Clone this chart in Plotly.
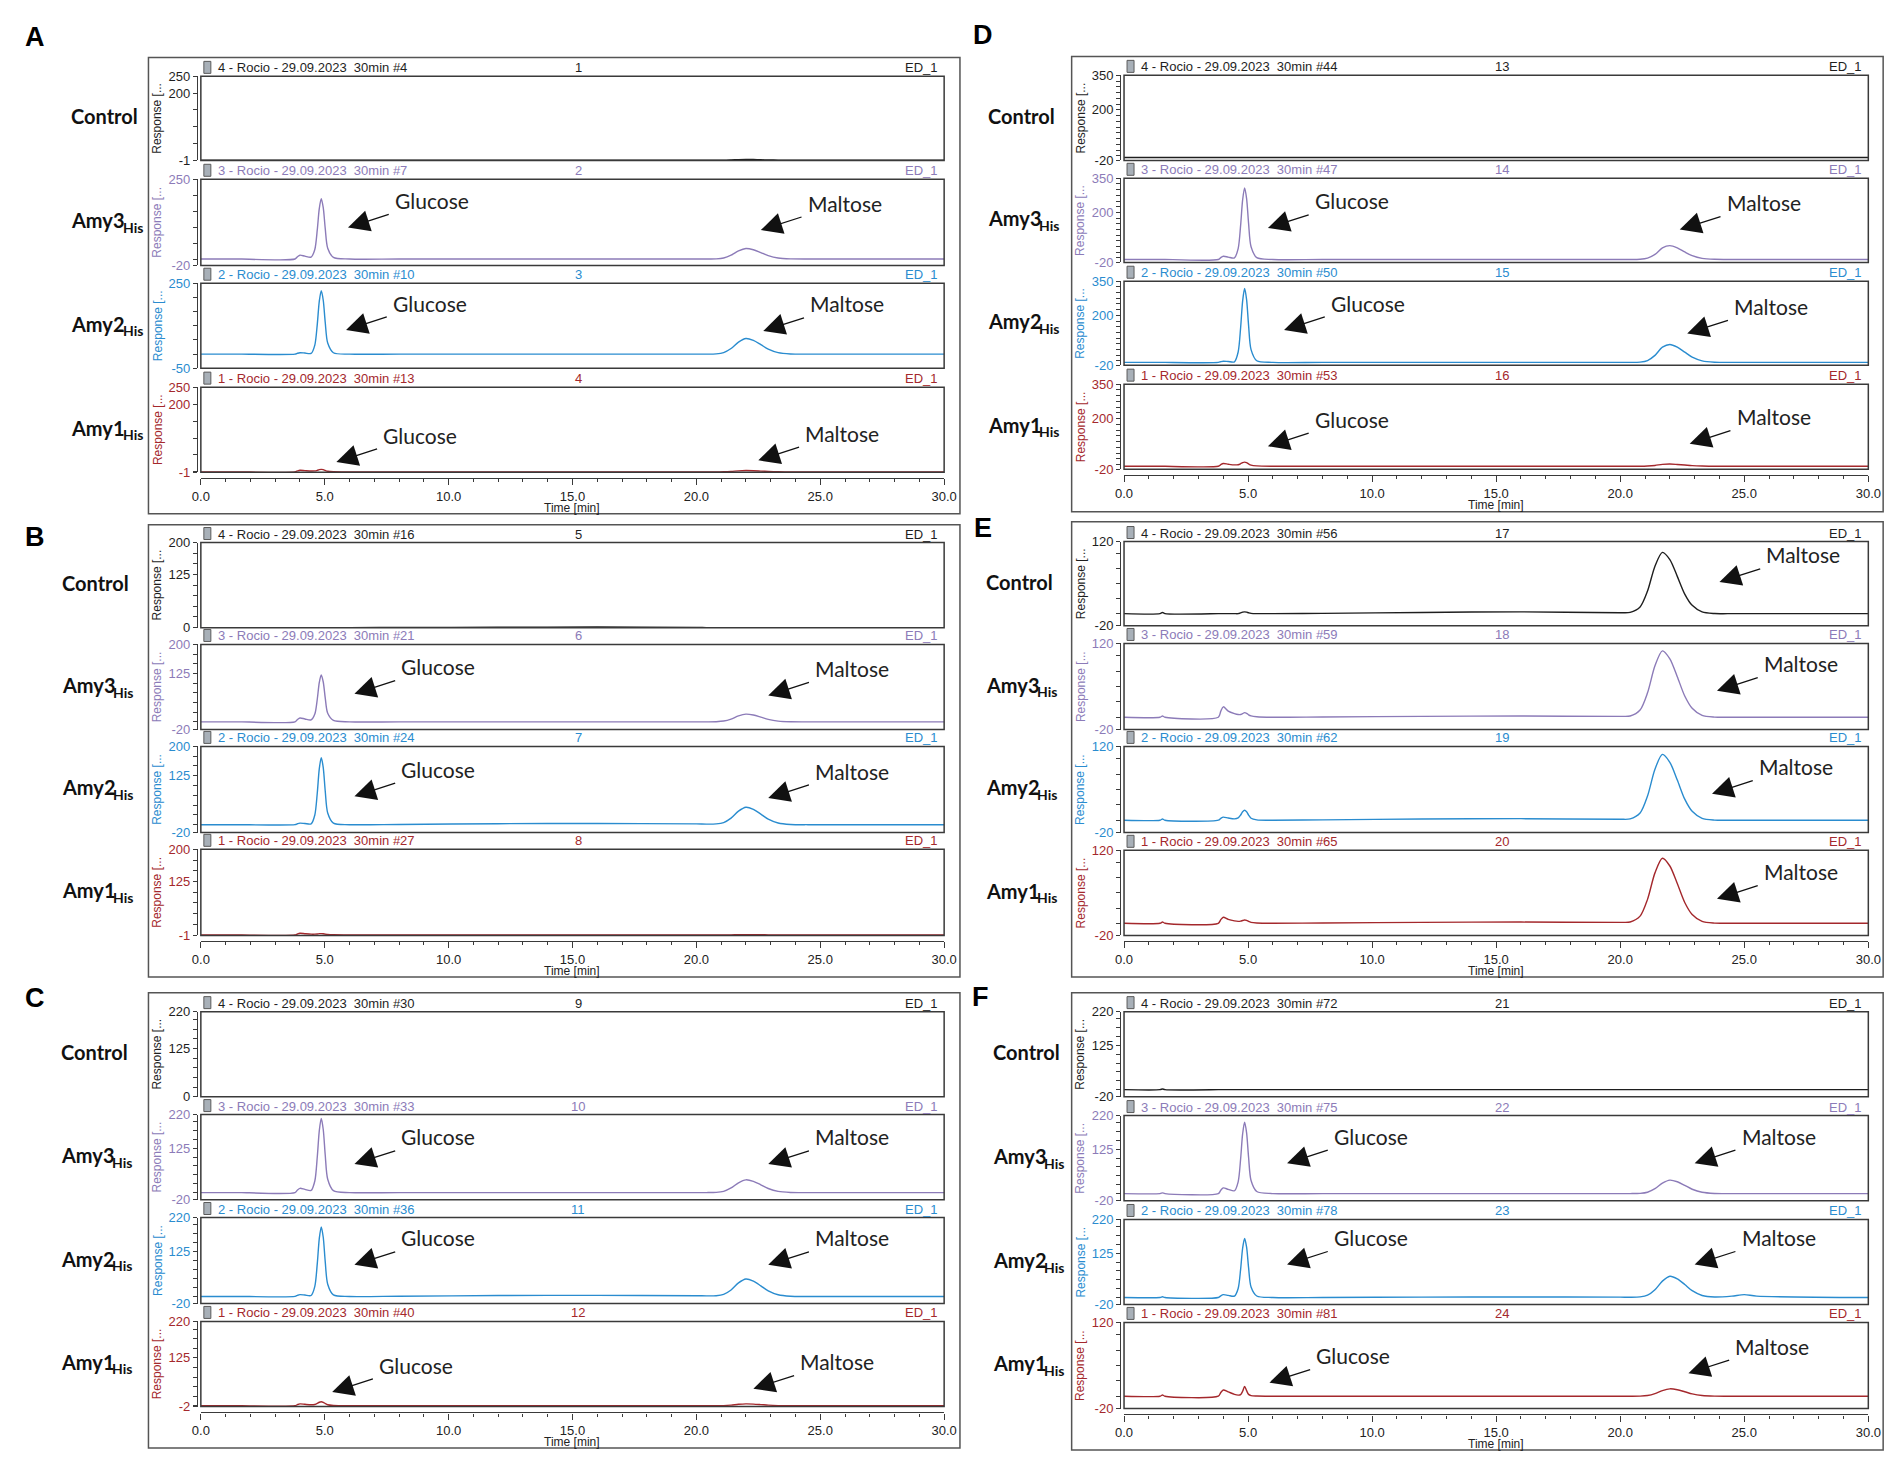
import plotly.graph_objects as go

W, H = 1901, 1458

# ---------------- data ----------------
# shared retention-time grid (min)
T = [0, 1.45, 1.55, 1.65,
     3.8, 3.9, 4.0, 4.2, 4.45, 4.6, 4.7, 4.78, 4.86, 4.94, 5.02, 5.12, 5.35, 6.0,
     8.0, 12.0, 16.0, 20.0,
     20.4, 20.8, 21.1, 21.4, 21.7, 22.0, 22.3, 22.6, 22.9, 23.3, 23.8, 24.5,
     25.0, 25.5, 30.0]

A_CONTROL = [0, 0, 0, 0,
             0, 0, 0, 0, 0, 0, 0, 0, 0, 0, 0, 0, 0, 0,
             0, 0, 0, 0,
             0, 0, 0, 0.7, 1.5, 2, 1.8, 1.2, 0.6, 0.2, 0, 0,
             0, 0, 0]
A_AMY3 = [0, 0, 0, 0,
          0, 7.2, 12, 9, 6, 30, 92, 158, 189, 161, 96, 34, 5, 0,
          0, 0, 0, 0,
          0, 0.6, 3.3, 11.9, 25.4, 33, 29, 20.1, 10.6, 3.1, 0.4, 0,
          0, 0, 0]
A_AMY2 = [0, 0, 0, 0,
          0, 3, 5, 3.8, 2.5, 32, 106, 186, 224, 190, 112, 39, 5, 0,
          0, 0, 0, 0,
          0, 0.9, 5.5, 19.8, 42.4, 55, 48.4, 33.6, 17.6, 5.2, 0.6, 0,
          0, 0, 0]
A_AMY1 = [0, 0, 0, 0,
          0, 3, 5, 3.8, 2.5, 2.9, 4.7, 6.7, 7.6, 6.6, 4.3, 2.1, 0.6, 0,
          0, 0, 0, 0,
          0, 0, 0.4, 1.4, 3.1, 4, 3.5, 2.4, 1.3, 0.4, 0, 0,
          0, 0, 0]

B_CONTROL = [0, 0, 0, 0,
             0, 0, 0, 0, 0, 0, 0, 0, 0, 0, 0, 0, 0, 0,
             0.3, 0.8, 1.5, 0.5,
             0, 0, 0, 0, 0, 0, 0, 0, 0, 0, 0, 0,
             0, 0, 0]
B_AMY3 = [0, 0, 0, 0,
          0, 6, 10, 7.5, 5, 20, 59, 101.5, 121, 103, 62, 22, 3.6, 0,
          0, 0, 0, 0,
          0, 0.3, 2, 7.2, 15.4, 20, 17.6, 12.2, 6.4, 1.9, 0.2, 0,
          0, 0, 0]
B_AMY2 = [0, 0, 0, 0,
          0, 2.4, 4, 3, 2, 24.7, 81.5, 142.5, 171, 146, 86, 30, 3.9, 0,
          0.5, 2.5, 3, 2,
          1.5, 2, 5.4, 16.6, 34.5, 44.5, 39, 27, 14.1, 4.2, 0.5, 0,
          0, 0, 0]
B_AMY1 = [0, 0, 0, 0,
          0, 2.4, 4, 3, 2, 2, 2.4, 3.1, 3.3, 2.9, 2.1, 1.2, 0.5, 0,
          0, 0, 0, 0,
          0, 0, 0, 0.4, 0.8, 1, 0.9, 0.6, 0.3, 0, 0, 0,
          0, 0, 0]

C_CONTROL = [0, 0, 0, 0,
             0, 0, 0, 0, 0, 0, 0, 0, 0, 0, 0, 0, 0, 0,
             0, 0, 0, 0,
             0, 0, 0, 0, 0, 0, 0, 0, 0, 0, 0, 0,
             0, 0, 0]
C_AMY3 = [0, 0, 0, 0,
          0, 7.2, 12, 9, 6, 32.7, 101, 174, 209, 178, 106, 37.6, 5.5, 0,
          0, 0, 0, 0,
          0, 0.6, 3.6, 13, 27.7, 36, 31.7, 22, 11.5, 3.4, 0.4, 0,
          0, 0, 0]
C_AMY2 = [0, 0, 0, 0,
          0, 3, 5, 3.8, 2.5, 28, 92, 161, 194, 165, 97, 34, 4.4, 0,
          0.5, 2.5, 3, 2,
          1.5, 2, 5.8, 18, 37.6, 48.5, 42.5, 29.5, 15.4, 4.6, 0.5, 0,
          0, 0, 0]
C_AMY1 = [0, 0, 0, 0,
          0, 3, 5, 3.8, 2.5, 3.3, 6.1, 9.2, 10.6, 9.1, 5.8, 2.6, 0.8, 0,
          0, 0, 0, 0,
          0, 0, 0.5, 1.8, 3.9, 5, 4.4, 3.1, 1.6, 0.5, 0, 0,
          0, 0, 0]

D_CONTROL = [-7, -7, -7, -7,
             -7, -7, -7, -7, -7, -7, -7, -7, -7, -7, -7, -7, -7, -7,
             -7, -7, -7, -7,
             -7, -7, -7, -7, -7, -7, -7, -7, -7, -7, -7, -7,
             -7, -7, -7]
D_AMY3 = [-7, -7, -7, -7,
          -7, 1.4, 7, 3.5, 0, 40.8, 144, 255, 307.6, 260.7, 151.8, 48.8, 0.9, -7,
          -7, -7, -7, -7,
          -7, -5.9, -0.8, 15.3, 44, 54, 44, 26, 10, -2, -6.3, -7,
          -7, -7, -7]
D_AMY2 = [-7, -7, -7, -7,
          -7, -4, -2, -3.2, -4.5, 38.7, 146.7, 262.8, 317.7, 269.1, 155.9, 49, 0.1, -7,
          -7, -7, -7, -7,
          -7, -5.6, 1.2, 24, 60, 72, 60, 38, 16, 0, -6.1, -7,
          -7, -7, -7]
D_AMY1 = [-7, -7, -7, -7,
          -7, 0.2, 5, 2, -1, -0.1, 4.2, 8.8, 11, 8.5, 3.2, -2, -5.3, -7,
          -7, -7, -7, -7,
          -7, -7, -6, -3.4, 1.5, 3, 1, -1.5, -4.2, -6, -7, -7,
          -7, -7, -7]

E_CONTROL = [0, 0, 2, 0,
             0, 0, 0, 0, 0, 0, 1.4, 2.5, 3, 2.5, 1.5, 0.5, 0, 0,
             0.5, 2, 3, 1.5,
             2.1, 11.2, 37.5, 79, 102, 90, 62, 32.6, 13.8, 2.9, 0.2, 0,
             0, 0, 0]
E_AMY3 = [0, 0, 2, 0,
          0, 10, 17, 10, 6, 4.5, 4.6, 6, 7.5, 6.5, 4, 2.2, 0.8, 0,
          0.5, 1.5, 2, 1.5,
          2.1, 11.8, 39.7, 83.7, 108, 95, 65.9, 34.6, 14.6, 3, 0.2, 0,
          0, 0, 0]
E_AMY2 = [0, 0, 2, 0,
          0, 3, 5, 3.5, 2.2, 3.7, 8.5, 13.8, 16.2, 13.8, 8.4, 3.2, 0.5, 0,
          0.5, 2, 2.5, 1.5,
          2.1, 11.7, 39.3, 82.9, 107, 94.2, 65.3, 34.2, 14.4, 3, 0.2, 0,
          0, 0, 0]
E_AMY1 = [0, 0, 2, 0,
          0, 6, 10, 6.5, 4, 3.2, 3.5, 4.5, 5.5, 4.8, 3, 1.5, 0.5, 0,
          0.5, 1.5, 2, 1.5,
          2.1, 11.7, 39.3, 82.9, 107, 94.2, 65.3, 34.2, 14.4, 3, 0.2, 0,
          0, 0, 0]

F_CONTROL = [0, 0, 2, 0,
             0, 0, 0, 0, 0, 0, 0, 0, 0, 0, 0, 0, 0, 0,
             0, 0, 0, 0,
             0, 0, 0, 0, 0, 0, 0, 0, 0, 0, 0, 0,
             0, 0, 0]
F_AMY3 = [0, 0, 2, 0,
          0, 9.6, 16, 12, 8, 33.2, 98.2, 168.3, 201.3, 171.4, 102.3, 36.8, 5.8, 0,
          0, 0, 0, 0,
          0, 0.6, 3.8, 13.7, 29.3, 38, 33.4, 23.2, 12.2, 3.6, 0.4, 0,
          0, 0, 0]
F_AMY2 = [0, 0, 2, 0,
          0, 4.8, 8, 6, 4, 25.5, 80.1, 138.9, 166.6, 141.8, 84.2, 29.7, 4.3, 0,
          0, 1, 1.5, 1,
          0.8, 1.7, 6.5, 21.9, 46.2, 60, 52.8, 36.6, 19.2, 5.7, 1.5, 4,
          8, 4, 0]
F_AMY1 = [0, 0, 2, 0,
          0, 6, 10, 7, 3, 1.8, 2.5, 8, 16, 9, 3, 1, 0.3, 0,
          0, 0, 0, 0,
          0, 0.2, 1.2, 4.3, 9.2, 12, 10.6, 7.3, 3.8, 1.1, 0.1, 0,
          0, 0, 0]

# y-axis ranges and labelled ticks (Control, Amy3, Amy2, Amy1)
A_YRANGE = [(-1, 250), (-20, 250), (-50, 250), (-1, 250)]
A_YTICKS = [[-1, 200, 250], [-20, 250], [-50, 250], [-1, 200, 250]]
B_YRANGE = [(0, 200), (-20, 200), (-20, 200), (-1, 200)]
B_YTICKS = [[0, 125, 200], [-20, 125, 200], [-20, 125, 200], [-1, 125, 200]]
C_YRANGE = [(0, 220), (-20, 220), (-20, 220), (-2, 220)]
C_YTICKS = [[0, 125, 220], [-20, 125, 220], [-20, 125, 220], [-2, 125, 220]]
D_YRANGE = [(-20, 350), (-20, 350), (-20, 350), (-20, 350)]
D_YTICKS = [[-20, 200, 350], [-20, 200, 350], [-20, 200, 350], [-20, 200, 350]]
E_YRANGE = [(-20, 120), (-20, 120), (-20, 120), (-20, 120)]
E_YTICKS = [[-20, 120], [-20, 120], [-20, 120], [-20, 120]]
F_YRANGE = [(-20, 220), (-20, 220), (-20, 220), (-20, 120)]
F_YTICKS = [[-20, 125, 220], [-20, 125, 220], [-20, 125, 220], [-20, 120]]

# injection numbers and sequence numbers
A_RUNS, A_NUMS = [4, 7, 10, 13], [1, 2, 3, 4]
B_RUNS, B_NUMS = [16, 21, 24, 27], [5, 6, 7, 8]
C_RUNS, C_NUMS = [30, 33, 36, 40], [9, 10, 11, 12]
D_RUNS, D_NUMS = [44, 47, 50, 53], [13, 14, 15, 16]
E_RUNS, E_NUMS = [56, 59, 62, 65], [17, 18, 19, 20]
F_RUNS, F_NUMS = [72, 75, 78, 81], [21, 22, 23, 24]

# peak labels: (row, text, arrow tip time, arrow tip height as fraction of plot)
A_NOTES = [(1, 'Glucose', 5.94, 0.44), (1, 'Maltose', 22.6, 0.41),
           (2, 'Glucose', 5.86, 0.45), (2, 'Maltose', 22.7, 0.44),
           (3, 'Glucose', 5.47, 0.12), (3, 'Maltose', 22.5, 0.14)]
B_NOTES = [(1, 'Glucose', 6.2, 0.42), (1, 'Maltose', 22.9, 0.40),
           (2, 'Glucose', 6.2, 0.42), (2, 'Maltose', 22.9, 0.40)]
C_NOTES = [(1, 'Glucose', 6.2, 0.42), (1, 'Maltose', 22.9, 0.42),
           (2, 'Glucose', 6.2, 0.45), (2, 'Maltose', 22.9, 0.45),
           (3, 'Glucose', 5.3, 0.17), (3, 'Maltose', 22.3, 0.21)]
D_NOTES = [(1, 'Glucose', 5.8, 0.41), (1, 'Maltose', 22.4, 0.39),
           (2, 'Glucose', 6.45, 0.42), (2, 'Maltose', 22.7, 0.38),
           (3, 'Glucose', 5.8, 0.27), (3, 'Maltose', 22.8, 0.30)]
E_NOTES = [(0, 'Maltose', 24.0, 0.52), (1, 'Maltose', 23.9, 0.45),
           (2, 'Maltose', 23.7, 0.45), (3, 'Maltose', 23.9, 0.43)]
F_NOTES = [(1, 'Glucose', 6.57, 0.44), (1, 'Maltose', 23.0, 0.44),
           (2, 'Glucose', 6.57, 0.47), (2, 'Maltose', 23.0, 0.47),
           (3, 'Glucose', 5.86, 0.30), (3, 'Maltose', 22.75, 0.41)]

ROW_NAMES = ['Control', 'Amy3', 'Amy2', 'Amy1']
ROW_SUBS = ['', 'His', 'His', 'His']
SAMPLE_IDS = ['4', '3', '2', '1']
COLORS = ['#1e1e1e', '#8c7bb8', '#2a8ccf', '#a4282c']

# ---------------- layout geometry (pixels) ----------------
PANELS = [
    dict(letter='A', lxy=(18, 22), box=(133, 43, 954, 504), px=(186, 938),
         rows=[(62, 147), (166, 253), (271, 357), (376, 462)], label_x=53,
         data=[A_CONTROL, A_AMY3, A_AMY2, A_AMY1], yr=A_YRANGE, yt=A_YTICKS,
         step=50, runs=A_RUNS, nums=A_NUMS, notes=A_NOTES),
    dict(letter='B', lxy=(18, 527), box=(133, 515, 954, 972), px=(186, 938),
         rows=[(533, 619), (636, 722), (739, 826), (843, 930)], label_x=43,
         data=[B_CONTROL, B_AMY3, B_AMY2, B_AMY1], yr=B_YRANGE, yt=B_YTICKS,
         step=25, runs=B_RUNS, nums=B_NUMS, notes=B_NOTES),
    dict(letter='C', lxy=(18, 993), box=(133, 988, 954, 1448), px=(186, 938),
         rows=[(1007, 1093), (1111, 1197), (1215, 1302), (1320, 1406)], label_x=42,
         data=[C_CONTROL, C_AMY3, C_AMY2, C_AMY1], yr=C_YRANGE, yt=C_YTICKS,
         step=25, runs=C_RUNS, nums=C_NUMS, notes=C_NOTES),
    dict(letter='D', lxy=(977, 20), box=(1067, 42, 1888, 502), px=(1120, 1873),
         rows=[(61, 147), (165, 250), (269, 354), (373, 459)], label_x=980,
         data=[D_CONTROL, D_AMY3, D_AMY2, D_AMY1], yr=D_YRANGE, yt=D_YTICKS,
         step=25, runs=D_RUNS, nums=D_NUMS, notes=D_NOTES),
    dict(letter='E', lxy=(977, 518), box=(1067, 512, 1888, 972), px=(1120, 1873),
         rows=[(532, 617), (635, 722), (739, 826), (844, 930)], label_x=978,
         data=[E_CONTROL, E_AMY3, E_AMY2, E_AMY1], yr=E_YRANGE, yt=E_YTICKS,
         step=25, runs=E_RUNS, nums=E_NUMS, notes=E_NOTES),
    dict(letter='F', lxy=(975, 992), box=(1067, 988, 1888, 1450), px=(1120, 1873),
         rows=[(1007, 1093), (1112, 1198), (1217, 1303), (1321, 1408)], label_x=985,
         data=[F_CONTROL, F_AMY3, F_AMY2, F_AMY1], yr=F_YRANGE, yt=F_YTICKS,
         step=25, runs=F_RUNS, nums=F_NUMS, notes=F_NOTES),
]

FRAME = '#3a3a3a'
TICKFONT = 'Liberation Sans, Arial, sans-serif'
LABELFONT = 'Lato, Open Sans, sans-serif'
NOTE_DX, NOTE_DY = 84, -27
SUB_DX = 52   # width of the bold "Amy3" text, where the subscript starts

fig = go.Figure()
layout = {}
annotations = []
shapes = []


def px_x(v):
    return v / W


def px_y(v):
    return (H - v) / H


for p in PANELS:
    for d in p['data']:
        assert len(d) == len(T), (p['letter'], len(d))

k = 0
for p in PANELS:
    bx0, by0, bx1, by1 = p['box']
    shapes.append(dict(type='rect', xref='paper', yref='paper',
                       x0=px_x(bx0), x1=px_x(bx1), y0=px_y(by1), y1=px_y(by0),
                       line=dict(color='#555555', width=1.5), layer='below'))
    annotations.append(dict(text='<b>%s</b>' % p['letter'], xref='paper', yref='paper',
                            x=px_x(p['lxy'][0]), y=px_y(p['lxy'][1]), showarrow=False,
                            xanchor='center', yanchor='middle',
                            font=dict(family='Liberation Sans, Arial', size=27, color='#000')))
    x0, x1 = p['px']
    row_axes = []
    for r in range(4):
        k += 1
        sfx = '' if k == 1 else str(k)
        top, bot = p['rows'][r]
        col = COLORS[r]
        xn, yn = 'x' + sfx, 'y' + sfx
        row_axes.append((xn, yn))
        fig.add_trace(go.Scatter(x=T, y=p['data'][r], mode='lines',
                                 line=dict(color=col, width=1.4, shape='spline', smoothing=0.8),
                                 xaxis=xn, yaxis=yn, hoverinfo='skip', showlegend=False))
        xa = dict(domain=[px_x(x0), px_x(x1)], range=[0, 30], anchor=yn,
                  showgrid=False, zeroline=False, visible=False, fixedrange=True)
        if r == 3:
            xa.update(visible=True, anchor='free', position=px_y(bot + 6),
                      showline=True, linecolor=FRAME, linewidth=1.2,
                      ticks='outside', ticklen=6, tickwidth=1, tickcolor=FRAME,
                      tickmode='linear', tick0=0, dtick=5, tickformat='.1f',
                      tickfont=dict(family=TICKFONT, size=13, color='#222'),
                      minor=dict(dtick=1, tick0=0, ticklen=3, ticks='outside',
                                 tickcolor=FRAME, tickwidth=1))
        layout['xaxis' + sfx] = xa

        lo, hi = p['yr'][r]
        labeled = p['yt'][r]
        minor = [v for v in range(-1000, 1001, p['step']) if lo < v < hi and v not in labeled]
        layout['yaxis' + sfx] = dict(
            domain=[px_y(bot), px_y(top)], range=[lo, hi], anchor='free',
            position=px_x(x0 - 4), showline=True, linecolor=FRAME, linewidth=1.2,
            ticks='outside', ticklen=4, tickwidth=1, tickcolor=FRAME,
            tickmode='array', tickvals=list(labeled), ticktext=[str(v) for v in labeled],
            minor=dict(tickmode='array', tickvals=minor, ticks='outside', ticklen=4,
                       tickwidth=1, tickcolor=FRAME),
            tickfont=dict(family=TICKFONT, size=13, color=col),
            showgrid=False, zeroline=False, fixedrange=True)

        # plot frame
        shapes.append(dict(type='rect', xref='%s domain' % xn, yref='%s domain' % yn,
                           x0=0, x1=1, y0=0, y1=1, line=dict(color=FRAME, width=1.5)))
        # small document icon in the header
        shapes.append(dict(type='rect', xref='%s domain' % xn, yref='%s domain' % yn,
                           xsizemode='pixel', ysizemode='pixel', xanchor=0, yanchor=1,
                           x0=3, x1=10, y0=3, y1=15,
                           fillcolor='#a8b0b8', line=dict(color='#5a5a5a', width=1)))
        hfont = dict(family=TICKFONT, size=13, color=col)
        annotations.append(dict(text='%s - Rocio - 29.09.2023\u00a0 30min #%d' % (SAMPLE_IDS[r], p['runs'][r]),
                                xref='%s domain' % xn, yref='%s domain' % yn, x=0, y=1,
                                xshift=15, yshift=-1, xanchor='left', yanchor='bottom',
                                showarrow=False, font=hfont))
        annotations.append(dict(text=str(p['nums'][r]), xref='%s domain' % xn, yref='%s domain' % yn,
                                x=0.5, y=1, xshift=6, yshift=-1, xanchor='center', yanchor='bottom',
                                showarrow=False, font=hfont))
        annotations.append(dict(text='ED_1', xref='%s domain' % xn, yref='%s domain' % yn,
                                x=1, y=1, xshift=-4, yshift=-1, xanchor='right', yanchor='bottom',
                                showarrow=False, font=hfont))
        annotations.append(dict(text='Response [...', xref='paper', yref='%s domain' % yn,
                                x=px_x(x0 - 44), y=0.5, textangle=-90, showarrow=False,
                                xanchor='center', yanchor='middle',
                                font=dict(family=TICKFONT, size=12, color=col)))
        annotations.append(dict(text='<b>%s</b>' % ROW_NAMES[r], xref='paper', yref='%s domain' % yn,
                                x=px_x(p['label_x']), y=0.5, yshift=2, xanchor='left', yanchor='middle',
                                showarrow=False,
                                font=dict(family=LABELFONT, size=20, color='#111')))
        if ROW_SUBS[r]:
            annotations.append(dict(text='<b>%s</b>' % ROW_SUBS[r], xref='paper', yref='%s domain' % yn,
                                    x=px_x(p['label_x'] + SUB_DX), y=0.5, yshift=-5,
                                    xanchor='left', yanchor='middle', showarrow=False,
                                    font=dict(family=LABELFONT, size=14, color='#111')))
    # x-axis title
    xb, yb = row_axes[3]
    annotations.append(dict(text='Time [min]', xref='%s domain' % xb, yref='paper',
                            x=0.5, y=px_y(p['rows'][3][1] + 36), showarrow=False,
                            xanchor='center', yanchor='middle',
                            font=dict(family=TICKFONT, size=12, color='#222')))
    # peak labels with arrows
    for (r, txt, tx, tyf) in p['notes']:
        xn, yn = row_axes[r]
        annotations.append(dict(text=txt, xref=xn, yref='%s domain' % yn, x=tx, y=tyf,
                                ax=NOTE_DX, ay=NOTE_DY, showarrow=True,
                                arrowhead=2, arrowsize=3.3, arrowwidth=1.3, arrowcolor='#111',
                                startstandoff=5,
                                font=dict(family=LABELFONT, size=21, color='#222')))

fig.update_layout(width=W, height=H, margin=dict(l=0, r=0, t=0, b=0),
                  paper_bgcolor='white', plot_bgcolor='white', showlegend=False,
                  annotations=annotations, shapes=shapes, **layout)
fig.write_html('out.html')
